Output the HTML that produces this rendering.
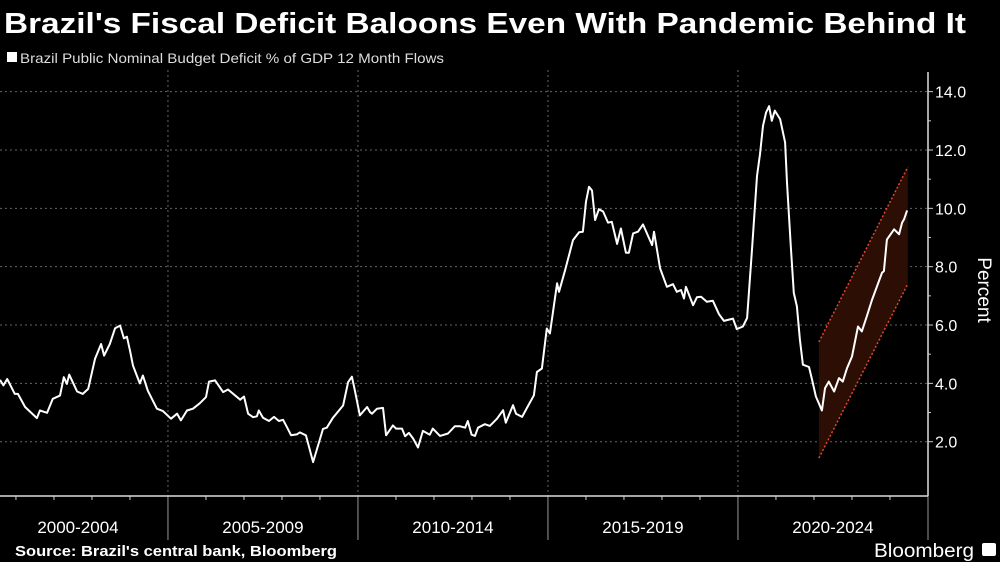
<!DOCTYPE html>
<html><head><meta charset="utf-8"><style>
html,body{margin:0;padding:0;background:#000;}
svg{display:block;font-family:"Liberation Sans",sans-serif;}
</style></head><body>
<svg id="chart" width="1000" height="562" viewBox="0 0 1000 562">
<rect x="0" y="0" width="1000" height="562" fill="#000"/>
<text x="4" y="33" fill="#fff" font-size="29" font-weight="bold" textLength="962" lengthAdjust="spacingAndGlyphs">Brazil's Fiscal Deficit Baloons Even With Pandemic Behind It</text>
<rect x="7" y="52" width="10" height="10" fill="#fff"/>
<text x="20" y="63" fill="#ddd" font-size="14" textLength="424" lengthAdjust="spacingAndGlyphs">Brazil Public Nominal Budget Deficit % of GDP 12 Month Flows</text>
<g id="grid"></g>
<g id="band"></g>
<g id="series"></g>
<g id="axes"></g>
<text x="15" y="556" fill="#fff" font-size="15" font-weight="bold" textLength="322" lengthAdjust="spacingAndGlyphs">Source: Brazil's central bank, Bloomberg</text>
<text x="874" y="557" fill="#fff" font-size="19" textLength="100" lengthAdjust="spacingAndGlyphs">Bloomberg</text>
<rect x="982" y="543" width="14" height="13" rx="2" fill="#fff"/>
</svg>
<script>
const dates=[2000.58,2000.67,2000.77,2000.97,2001.05,2001.24,2001.55,2001.63,2001.82,2001.97,2002.16,2002.26,2002.34,2002.40,2002.61,2002.76,2002.90,2003.08,2003.24,2003.32,2003.47,2003.61,2003.74,2003.84,2003.92,2004.00,2004.08,2004.26,2004.34,2004.47,2004.71,2004.87,2005.08,2005.24,2005.34,2005.50,2005.66,2005.84,2006.00,2006.08,2006.24,2006.45,2006.58,2006.90,2007.00,2007.11,2007.24,2007.34,2007.39,2007.50,2007.66,2007.79,2007.92,2008.03,2008.13,2008.24,2008.39,2008.47,2008.63,2008.82,2009.08,2009.18,2009.34,2009.61,2009.74,2009.84,2009.92,2010.05,2010.24,2010.32,2010.37,2010.50,2010.66,2010.74,2010.92,2011.00,2011.16,2011.24,2011.34,2011.45,2011.58,2011.71,2011.89,2011.97,2012.16,2012.37,2012.55,2012.68,2012.82,2012.89,2012.99,2013.08,2013.16,2013.34,2013.47,2013.66,2013.82,2013.89,2014.08,2014.16,2014.32,2014.45,2014.63,2014.71,2014.84,2014.97,2015.05,2015.24,2015.29,2015.45,2015.66,2015.82,2015.92,2016.00,2016.08,2016.16,2016.24,2016.34,2016.45,2016.58,2016.68,2016.82,2016.92,2017.05,2017.13,2017.24,2017.37,2017.50,2017.74,2017.79,2017.95,2018.13,2018.29,2018.39,2018.50,2018.58,2018.63,2018.82,2018.92,2019.03,2019.18,2019.34,2019.50,2019.63,2019.87,2019.97,2020.13,2020.24,2020.37,2020.50,2020.58,2020.66,2020.74,2020.82,2020.89,2020.97,2021.11,2021.24,2021.29,2021.39,2021.47,2021.55,2021.63,2021.71,2021.87,2021.95,2022.05,2022.21,2022.29,2022.39,2022.53,2022.66,2022.76,2022.87,2023.00,2023.16,2023.26,2023.39,2023.53,2023.79,2023.84,2023.92,2024.11,2024.24,2024.32,2024.37,2024.45];
const deficit=[4.12,3.93,4.15,3.64,3.64,3.19,2.81,3.07,2.99,3.47,3.58,4.21,3.98,4.30,3.72,3.64,3.81,4.84,5.35,4.95,5.35,5.89,5.98,5.54,5.60,5.12,4.61,4.00,4.27,3.75,3.13,3.05,2.79,2.96,2.73,3.07,3.13,3.32,3.53,4.06,4.10,3.70,3.79,3.44,3.55,2.96,2.84,2.87,3.07,2.82,2.71,2.85,2.71,2.75,2.50,2.22,2.25,2.32,2.22,1.30,2.44,2.48,2.82,3.24,4.04,4.23,3.75,2.90,3.19,3.01,2.96,3.13,3.16,2.22,2.56,2.45,2.45,2.19,2.30,2.11,1.80,2.37,2.24,2.45,2.20,2.28,2.53,2.53,2.48,2.71,2.24,2.20,2.48,2.60,2.54,2.79,3.08,2.65,3.25,2.96,2.85,3.17,3.59,4.39,4.51,5.88,5.71,7.43,7.14,7.88,8.91,9.18,9.20,10.23,10.74,10.61,9.60,9.97,9.89,9.51,9.54,8.78,9.31,8.48,8.48,9.14,9.20,9.45,8.74,9.20,7.94,7.31,7.40,7.14,7.20,6.91,7.31,6.68,6.95,6.97,6.80,6.83,6.37,6.14,6.22,5.86,5.95,6.24,8.59,11.11,11.86,12.83,13.29,13.50,13.00,13.35,13.06,12.26,10.88,8.70,7.10,6.64,5.50,4.64,4.56,4.12,3.55,3.07,3.83,4.06,3.72,4.18,4.06,4.52,4.92,5.95,5.78,6.30,6.87,7.79,7.85,8.93,9.28,9.11,9.51,9.62,9.93];
const bandDates=[2022.13,2024.47];
const bandUpper=[5.42,11.42];
const bandLower=[1.44,7.41];
const yTicks=[2,4,6,8,10,12,14];
const periodLabels=["2000-2004","2005-2009","2010-2014","2015-2019","2020-2024"];
const periodStarts=[2000,2005,2010,2015,2020];

const NS="http://www.w3.org/2000/svg";
const X0=2000.58, PXY=38, AXR=928, AXB=496;
function xs(t){return (t-X0)*PXY;}
function ys(v){return 441.7-(v-2)*29.17;}
function mk(tag,attrs,parent){const e=document.createElementNS(NS,tag);for(const k in attrs)e.setAttribute(k,attrs[k]);parent.appendChild(e);return e;}
const grid=document.getElementById('grid'),axes=document.getElementById('axes'),band=document.getElementById('band'),series=document.getElementById('series');

yTicks.forEach(v=>{
  const l=mk('line',{x1:0,x2:AXR,y1:ys(v),y2:ys(v),stroke:'#666','stroke-width':1,'stroke-dasharray':'2,3'},grid);
  
  
  const t=mk('line',{x1:AXR,x2:AXR+5,y1:ys(v),y2:ys(v),stroke:'#ccc'},axes);
  
  
  const tx=mk('text',{x:AXR+7,y:ys(v)+6,fill:'#fff','font-size':16},axes);
  tx.textContent=v.toFixed(1);
  
  
  if(v<14){const m=mk('line',{x1:AXR,x2:AXR+3,y1:ys(v+1),y2:ys(v+1),stroke:'#ccc'},axes);
  
  }
});
periodStarts.forEach((s,i)=>{
  const x=xs(s);
  if(i>0){const g=mk('line',{x1:x,x2:x,y1:70,y2:AXB,stroke:'#666','stroke-dasharray':'2,3'},grid);
    
    
    const sep=mk('line',{x1:x,x2:x,y1:AXB,y2:540,stroke:'#999'},axes);
    
    }
  for(let k=1;k<5;k++){const tx=xs(s+k);if(tx>0&&tx<AXR){const tk=mk('line',{x1:tx,x2:tx,y1:AXB,y2:AXB+4,stroke:'#ccc'},axes);
    
    }}
  const lbl=mk('text',{x:(Math.max(0,x)+Math.min(AXR,xs(s+5)))/2+ (i==0?-6:0),y:533,fill:'#fff','font-size':17,'text-anchor':'middle'},axes);
  lbl.textContent=periodLabels[i];
  
  
});
const sep2=mk('line',{x1:AXR,x2:AXR,y1:AXB,y2:540,stroke:'#999'},axes);


const xa=mk('line',{x1:0,x2:AXR,y1:AXB,y2:AXB,stroke:'#ddd','stroke-width':1.5},axes);


const ya=mk('line',{x1:AXR,x2:AXR,y1:72,y2:AXB,stroke:'#ddd','stroke-width':1.5},axes);


const yt=mk('text',{x:0,y:0,fill:'#fff','font-size':19,'text-anchor':'middle',transform:'translate(978,290) rotate(90)'},axes);
yt.textContent='Percent';



const bp=mk('polygon',{points:`${xs(bandDates[0])},${ys(bandUpper[0])} ${xs(bandDates[1])},${ys(bandUpper[1])} ${xs(bandDates[1])},${ys(bandLower[1])} ${xs(bandDates[0])},${ys(bandLower[0])}`,fill:'#2c0e05'},band);


[bandUpper,bandLower].forEach((arr,i)=>{
  const l=mk('line',{x1:xs(bandDates[0]),y1:ys(arr[0]),x2:xs(bandDates[1]),y2:ys(arr[1]),stroke:'#e0472a','stroke-width':1.5,'stroke-dasharray':'2,2'},band);
  
  
});
const pts=dates.map((d,i)=>xs(d).toFixed(1)+','+ys(deficit[i]).toFixed(1)).join(' ');
const line=mk('polyline',{points:pts,fill:'none',stroke:'#fff','stroke-width':2,'stroke-linejoin':'round'},series);


</script>
</body></html>
